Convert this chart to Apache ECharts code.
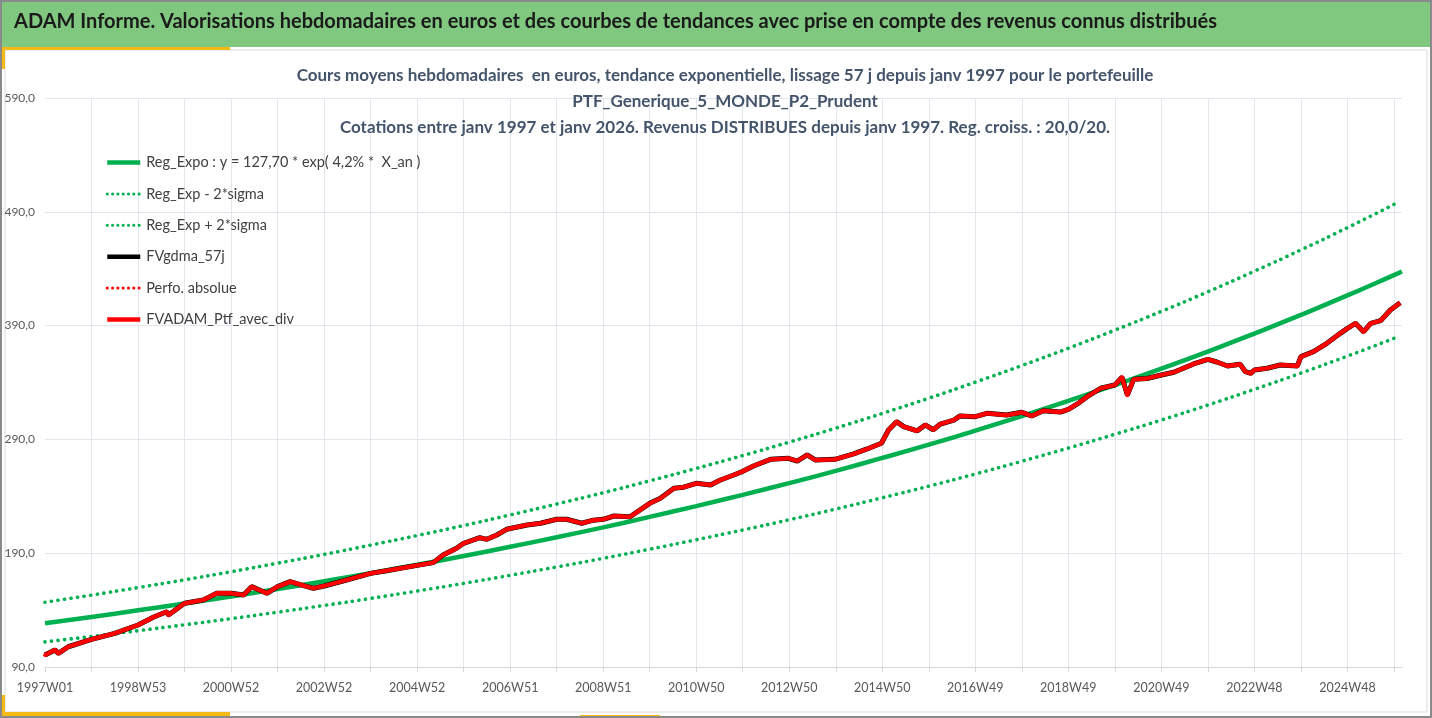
<!DOCTYPE html>
<html><head><meta charset="utf-8">
<script src="https://cdn.jsdelivr.net/npm/echarts@6/dist/echarts.min.js"></script>
<style>html,body{margin:0;padding:0;background:#fff;}#c{width:1432px;height:718px;}</style>
</head><body><div id="c"></div>
<script>
const mainTitle = 'ADAM Informe. Valorisations hebdomadaires en euros et des courbes de tendances avec prise en compte des revenus connus distribués';
const subTitle = 'Cours moyens hebdomadaires  en euros, tendance exponentielle, lissage 57 j depuis janv 1997 pour le portefeuille\nPTF_Generique_5_MONDE_P2_Prudent\nCotations entre janv 1997 et janv 2026. Revenus DISTRIBUES depuis janv 1997. Reg. croiss. : 20,0/20.';
const weekLabels = ['1997W01','1998W53','2000W52','2002W52','2004W52','2006W51','2008W51','2010W50','2012W50','2014W50','2016W49','2018W49','2020W49','2022W48','2024W48'];
const yTicks = [90,190,290,390,490,590];

const seriesNames = ['Reg_Expo : y = 127,70 * exp( 4,2% *  X_an )','Reg_Exp - 2*sigma','Reg_Exp + 2*sigma','FVgdma_57j','Perfo. absolue','FVADAM_Ptf_avec_div'];

const regWeeks = [0,52,104,156,208,260,312,364,416,468,520,572,624,676,728,780,832,884,936,988,1040,1092,1144,1196,1248,1300,1352,1404,1456,1508,1517];
const regExpo = [128.5,134.0,139.8,145.8,152.0,158.5,165.3,172.4,179.8,187.5,195.6,204.0,212.7,221.9,231.4,241.3,251.6,262.4,273.7,285.4,297.7,310.5,323.8,337.7,352.1,367.2,383.0,399.4,416.5,434.4,437.5];
const regLower = [112.1,116.8,121.9,127.1,132.5,138.2,144.1,150.3,156.8,163.5,170.6,177.9,185.5,193.5,201.8,210.4,219.4,228.8,238.7,248.9,259.6,270.8,282.4,294.5,307.0,320.2,334.0,348.3,363.2,378.8];
const regUpper = [146.9,153.2,159.8,166.6,173.7,181.2,188.9,197.1,205.5,214.3,223.6,233.2,243.1,253.6,264.5,275.8,287.6,299.9,312.8,326.2,340.3,354.9,370.1,386.0,402.5,419.7,437.8,456.5,476.1,496.5];

const ptfWeeks = [0,11,15,26,52,78,104,121,136,138,156,177,192,208,222,231,248,260,274,293,300,312,334,364,382,397,416,434,445,460,468,486,494,505,516,539,554,572,583,600,613,624,636,654,676,688,703,714,728,744,755,770,779,792,811,831,841,852,861,883,904,919,935,943,952,960,975,984,993,1001,1016,1023,1040,1053,1075,1092,1103,1116,1135,1144,1156,1165,1180,1196,1204,1210,1217,1232,1248,1262,1284,1300,1310,1322,1336,1342,1348,1352,1366,1381,1400,1404,1418,1433,1448,1456,1465,1474,1482,1493,1504,1515];
const ptfValues = [100.5,105,102,107.8,114.3,119.6,126.9,133.7,138.6,135.7,146,148.9,154.8,154.8,153.3,160.6,154.8,160.6,165,160.6,159.2,161.2,165.8,172.3,174.6,176.7,179.3,181.7,188.4,194.3,198.7,203.6,202.2,206,211,214.8,216.3,219.8,219.8,216.3,219,219.8,222.7,222,233.8,238.2,247,248,251.4,250,254.3,258.7,261.6,266.6,272.5,273.4,271,276.3,271.9,272.5,277.2,281.6,286.6,298.3,305.6,301.2,297.5,302.7,298.5,303.5,307,310.6,310,312.9,311.4,313.8,310.6,315.2,314,316.4,322.2,327.5,334.9,337.8,344.6,329,342.8,343.5,346.6,349,356.3,360.4,358,354.5,356,349.5,348,351,352.5,355.4,354.5,362.7,367.1,374.4,383.2,387.6,392,384.6,392,394.3,403.7,410.1];

const zip = (xs, ys) => ys.map((v, i) => [xs[i], v]);
const FONT = 'Lato, "Open Sans", sans-serif';
const dotted = { type: [0.1, 6.5], cap: 'round', width: 3.6 };
const legendSolid = { width: 4.5, type: 'solid', cap: 'butt' };
const legendDot = { width: 3, type: [0.1, 5.2], cap: 'round' };

const chart = echarts.init(document.getElementById('c'), null, { renderer: 'canvas' });
chart.setOption({
  backgroundColor: '#ffffff',
  animation: false,
  textStyle: { fontFamily: FONT },
  title: {
    text: subTitle,
    left: 720, top: 58, textAlign: 'center',
    textStyle: { fontSize: 17, fontWeight: 'bold', color: '#44546a', lineHeight: 26, fontFamily: FONT }
  },
  graphic: [
    { type: 'rect', shape: { x: 0, y: 0, width: 1432, height: 47 }, style: { fill: '#80c780' }, z: 0 },
    { type: 'rect', shape: { x: 5, y: 50, width: 1422, height: 662 }, style: { fill: 'none', stroke: '#d9d9d9', lineWidth: 1 }, z: 0 },
    { type: 'rect', shape: { x: 5, y: 47, width: 225, height: 3 }, style: { fill: '#f4b915' }, z: 1 },
    { type: 'rect', shape: { x: 2, y: 47, width: 3, height: 22 }, style: { fill: '#f4b915' }, z: 1 },
    { type: 'rect', shape: { x: 5, y: 712, width: 225, height: 4 }, style: { fill: '#f4b915' }, z: 1 },
    { type: 'rect', shape: { x: 2, y: 695, width: 3, height: 21 }, style: { fill: '#f4b915' }, z: 1 },
    { type: 'rect', shape: { x: 580, y: 715, width: 80, height: 2 }, style: { fill: '#f4b915' }, z: 1 },
    { type: 'rect', shape: { x: 1, y: 1, width: 1430, height: 716 }, style: { fill: 'none', stroke: '#8a8a8a', lineWidth: 2 }, z: 2 },
    { type: 'text', left: 14, top: 12, style: { text: mainTitle, font: 'bold 20px ' + FONT, fill: '#1a1a1a' }, z: 3 }
  ],
  legend: {
    orient: 'vertical', left: 105, top: 155, padding: 0,
    itemWidth: 33, itemHeight: 14, itemGap: 16.4,
    itemStyle: { opacity: 0 },
    data: [
      { name: seriesNames[0], lineStyle: legendSolid },
      { name: seriesNames[1], lineStyle: legendDot },
      { name: seriesNames[2], lineStyle: legendDot },
      { name: seriesNames[3], lineStyle: legendSolid },
      { name: seriesNames[4], lineStyle: legendDot },
      { name: seriesNames[5], lineStyle: legendSolid }
    ],
    textStyle: { fontSize: 14.5, color: '#404040', fontFamily: FONT, padding: [0, 0, 0, 1] },
    selectedMode: false
  },
  grid: { left: 45, right: 30, top: 98, bottom: 51, containLabel: false },
  xAxis: {
    type: 'value', min: 0, max: 1517, interval: 52,
    axisLine: { show: true, lineStyle: { color: '#d9d9d9', width: 1 } },
    axisTick: { show: true, length: 5, lineStyle: { color: '#d9d9d9' } },
    splitLine: { show: true, showMinLine: false, showMaxLine: false, lineStyle: { color: '#e3e7ed', width: 1 } },
    axisLabel: {
      showMaxLabel: false, margin: 14, color: '#595959', fontSize: 12.5, fontFamily: FONT,
      formatter: v => (v % 104 === 0 && weekLabels[v / 104]) ? weekLabels[v / 104] : ''
    }
  },
  yAxis: {
    type: 'value', min: yTicks[0], max: yTicks[yTicks.length - 1], interval: 100,
    axisLine: { show: false }, axisTick: { show: false },
    splitLine: { show: true, lineStyle: { color: '#e3e7ed', width: 1 } },
    axisLabel: { margin: 10, color: '#595959', fontSize: 12, fontFamily: FONT,
      formatter: v => v.toFixed(1).replace('.', ',') }
  },
  series: [
    { name: seriesNames[0], type: 'line', data: zip(regWeeks, regExpo), smooth: true, symbol: 'none',
      lineStyle: { color: '#00b050', width: 4.5 }, itemStyle: { color: '#00b050' }, z: 3 },
    { name: seriesNames[1], type: 'line', data: zip(regWeeks, regLower), smooth: true, symbol: 'none',
      lineStyle: Object.assign({ color: '#00b050' }, dotted), itemStyle: { color: '#00b050' }, z: 3 },
    { name: seriesNames[2], type: 'line', data: zip(regWeeks, regUpper), smooth: true, symbol: 'none',
      lineStyle: Object.assign({ color: '#00b050' }, dotted), itemStyle: { color: '#00b050' }, z: 3 },
    { name: seriesNames[3], type: 'line', data: zip(ptfWeeks, ptfValues), symbol: 'none',
      lineStyle: { color: '#000000', width: 5 }, itemStyle: { color: '#000000' }, z: 4 },
    { name: seriesNames[4], type: 'line', data: zip(ptfWeeks, ptfValues), symbol: 'none',
      lineStyle: Object.assign({ color: '#ff0000' }, dotted), itemStyle: { color: '#ff0000' }, z: 4 },
    { name: seriesNames[5], type: 'line', data: zip(ptfWeeks, ptfValues), symbol: 'none',
      lineStyle: { color: '#ff0000', width: 4.3, join: 'round' }, itemStyle: { color: '#ff0000' }, z: 5 }
  ]
});
</script></body></html>
